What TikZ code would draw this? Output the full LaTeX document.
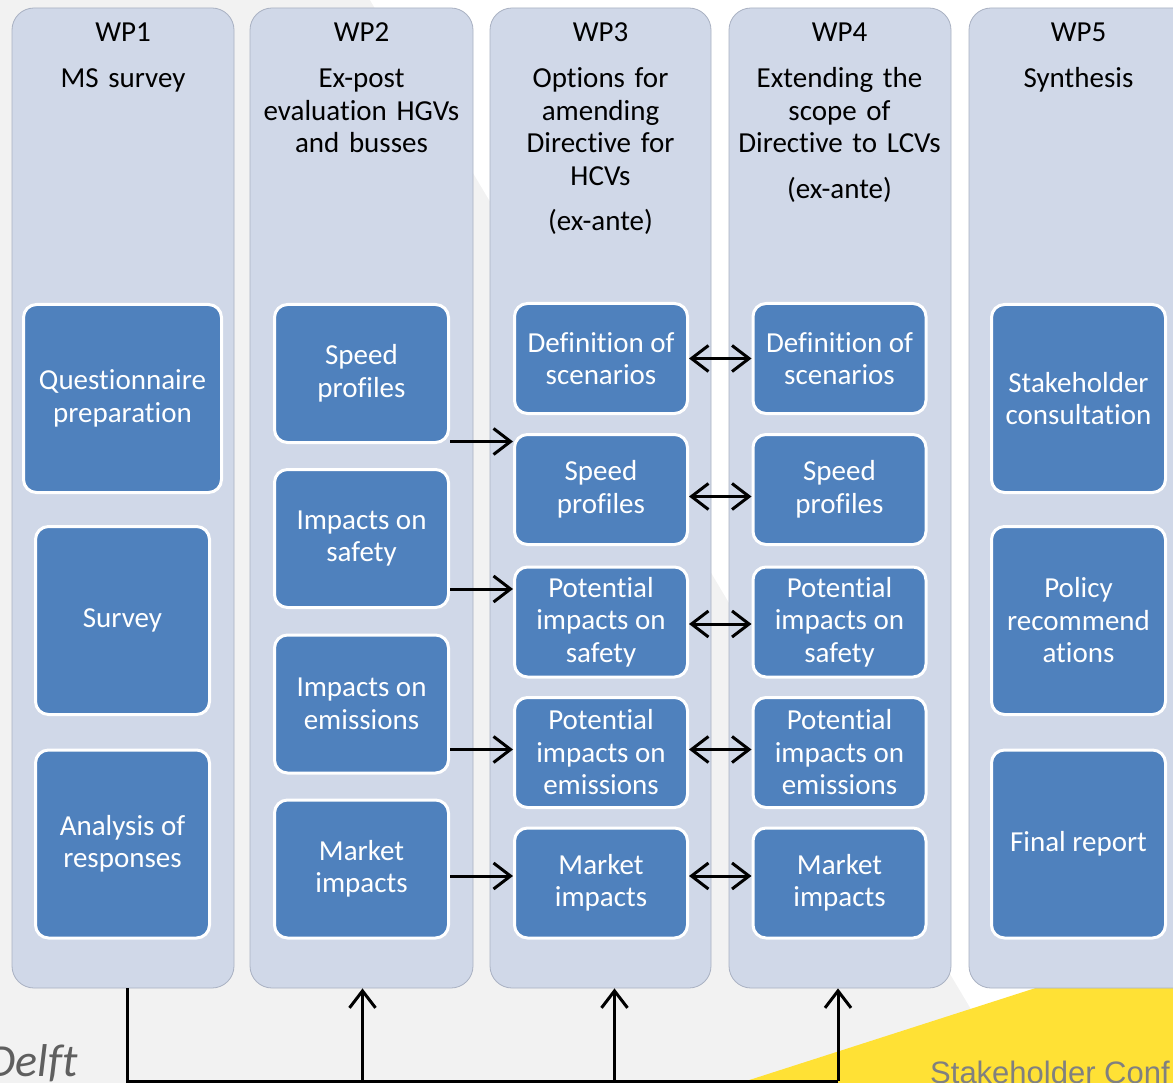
\documentclass[tikz,border=0pt]{standalone}
\usepackage{fontspec}
\setmainfont{Carlito}[Ligatures=NoCommon]
\newfontfamily\confont{Liberation Sans}
\usetikzlibrary{positioning,arrows.meta}

\definecolor{colfill}{HTML}{D0D8E8}
\definecolor{colline}{HTML}{A9B1C2}
\definecolor{boxfill}{HTML}{4F81BD}
\definecolor{bggray}{HTML}{F2F2F2}
\definecolor{swoosh}{HTML}{FFE135}
\definecolor{logogray}{HTML}{5F5F5F}

\begin{document}
\begin{tikzpicture}[x=1pt, y=-1pt,
  col/.style={draw=colline, line width=0.8pt, fill=colfill, rounded corners=22pt,
    minimum width=#1, minimum height=980, inner sep=0pt},
  head/.style={anchor=base, text width=215, align=center, inner sep=0pt,
    font=\fontsize{29}{32.5}\selectfont},
  box/.style={draw=white, line width=3pt, fill=boxfill, text=white, rounded corners=13pt,
    align=center, inner sep=2pt, font=\fontsize{29}{32.5}\selectfont},
  tall/.style={box, minimum width=174, minimum height=188},
  mid/.style={box, minimum width=174, minimum height=138},
  low/.style={box, minimum width=173, minimum height=110},
  flow/.style={line width=3pt, -{Straight Barb[length=17pt,width=26pt]}},
  both/.style={line width=3pt, {Straight Barb[length=17pt,width=26pt]}-{Straight Barb[length=17pt,width=26pt]}}
]
\useasboundingbox (0,0) rectangle (1173,1083);

% slide background
\fill[bggray] (0,0) rectangle (1173,1083);
\fill[white] (370,0) -- (1173,0) -- (1173,1083) -- (1015,1083) -- cycle;
\fill[swoosh] (740,1083) -- (1045,985) -- (1173,960) -- (1173,1083) -- cycle;
\node[anchor=base east, inner sep=0pt, text=logogray, font=\fontsize{46}{50}\selectfont\itshape] (logo) at (78,1076) {Delft};
\node[anchor=base west, inner sep=0pt, text=gray, font=\confont\fontsize{31}{34}\selectfont] (conf) at (930,1083) {Stakeholder Conf};

% work package columns
\node[col=222] (c1) at (123,498) {};
\node[col=223] (c2) at (361.5,498) {};
\node[col=221] (c3) at (600.5,498) {};
\node[col=222] (c4) at (840,498) {};
\node[col=226] (c5) at (1082,498) {};

\node[head] (h1) at (123,42) {WP1};
\node[head] (h2) at (361.5,42) {WP2};
\node[head] (h3) at (600.5,42) {WP3};
\node[head] (h4) at (839.5,42) {WP4};
\node[head] (h5) at (1078.5,42) {WP5};

\node[head] (s1) at (123,88) {MS survey};
\node[head] (s2) at (361.5,88) {Ex-post\\evaluation HGVs\\and busses};
\node[head] (s3) at (600.5,88) {Options for\\amending\\Directive for\\HCVs};
\node[head] (e3) at (600.5,231) {(ex-ante)};
\node[head] (s4) at (839.5,88) {Extending the\\scope of\\Directive to LCVs};
\node[head] (e4) at (839.5,199) {(ex-ante)};
\node[head] (s5) at (1078.5,88) {Synthesis};

% WP1
\node[tall, minimum width=198] (qp) at (122.5,398.5) {Questionnaire\\preparation};
\node[tall] (sv) at (122.5,620.5) {Survey};
\node[tall] (an) at (122.5,844) {Analysis of\\responses};

% WP2
\node[mid] (sp2) at (361.5,373.5) {Speed\\profiles};
\node[mid] (sa2) at (361.5,538.5) {Impacts on\\safety};
\node[mid] (em2) at (361.5,704) {Impacts on\\emissions};
\node[mid] (mk2) at (361.5,869) {Market\\impacts};

% WP3
\node[low] (df3) at (601,358.5) {Definition of\\scenarios};
\node[low] (sp3) at (601,489.5) {Speed\\profiles};
\node[low] (sa3) at (601,622) {Potential\\impacts on\\safety};
\node[low] (em3) at (601,752.5) {Potential\\impacts on\\emissions};
\node[low] (mk3) at (601,883) {Market\\impacts};

% WP4
\node[low] (df4) at (839.5,358.5) {Definition of\\scenarios};
\node[low] (sp4) at (839.5,489.5) {Speed\\profiles};
\node[low] (sa4) at (839.5,622) {Potential\\impacts on\\safety};
\node[low] (em4) at (839.5,752.5) {Potential\\impacts on\\emissions};
\node[low] (mk4) at (839.5,883) {Market\\impacts};

% WP5
\node[tall] (sc) at (1078.5,398.5) {Stakeholder\\consultation};
\node[tall] (pr) at (1078.5,620.5) {Policy\\recommend\\ations};
\node[tall] (fr) at (1078.5,844) {Final report};

% ex-post results feed the ex-ante options
\draw[flow] ([yshift=48]sp3.west -| sp2.east) -- ([yshift=48]sp3.west);
\draw[flow] ([yshift=33]sa3.west -| sa2.east) -- ([yshift=33]sa3.west);
\draw[flow] ([yshift=3]em3.west -| em2.east) -- ([yshift=3]em3.west);
\draw[flow] ([yshift=7]mk3.west -| mk2.east) -- ([yshift=7]mk3.west);

% WP3 <-> WP4
\draw[both] (df3.east) -- (df4.west);
\draw[both] ([yshift=-7]sp3.east) -- ([yshift=-7]sp4.west);
\draw[both] ([yshift=-2]sa3.east) -- ([yshift=-2]sa4.west);
\draw[both] ([yshift=3]em3.east) -- ([yshift=3]em4.west);
\draw[both] ([yshift=7]mk3.east) -- ([yshift=7]mk4.west);

% survey results go to WP2-WP4
\coordinate (bus) at (838,1081);
\draw[line width=3pt] ([xshift=4]c1.south) |- (bus);
\draw[flow] ([xshift=1]c2.south |- bus) -- ([xshift=1]c2.south);
\draw[flow] ([xshift=14]c3.south |- bus) -- ([xshift=14]c3.south);
\draw[flow] ([xshift=-2]c4.south |- bus) -- ([xshift=-2]c4.south);
\end{tikzpicture}
\end{document}
